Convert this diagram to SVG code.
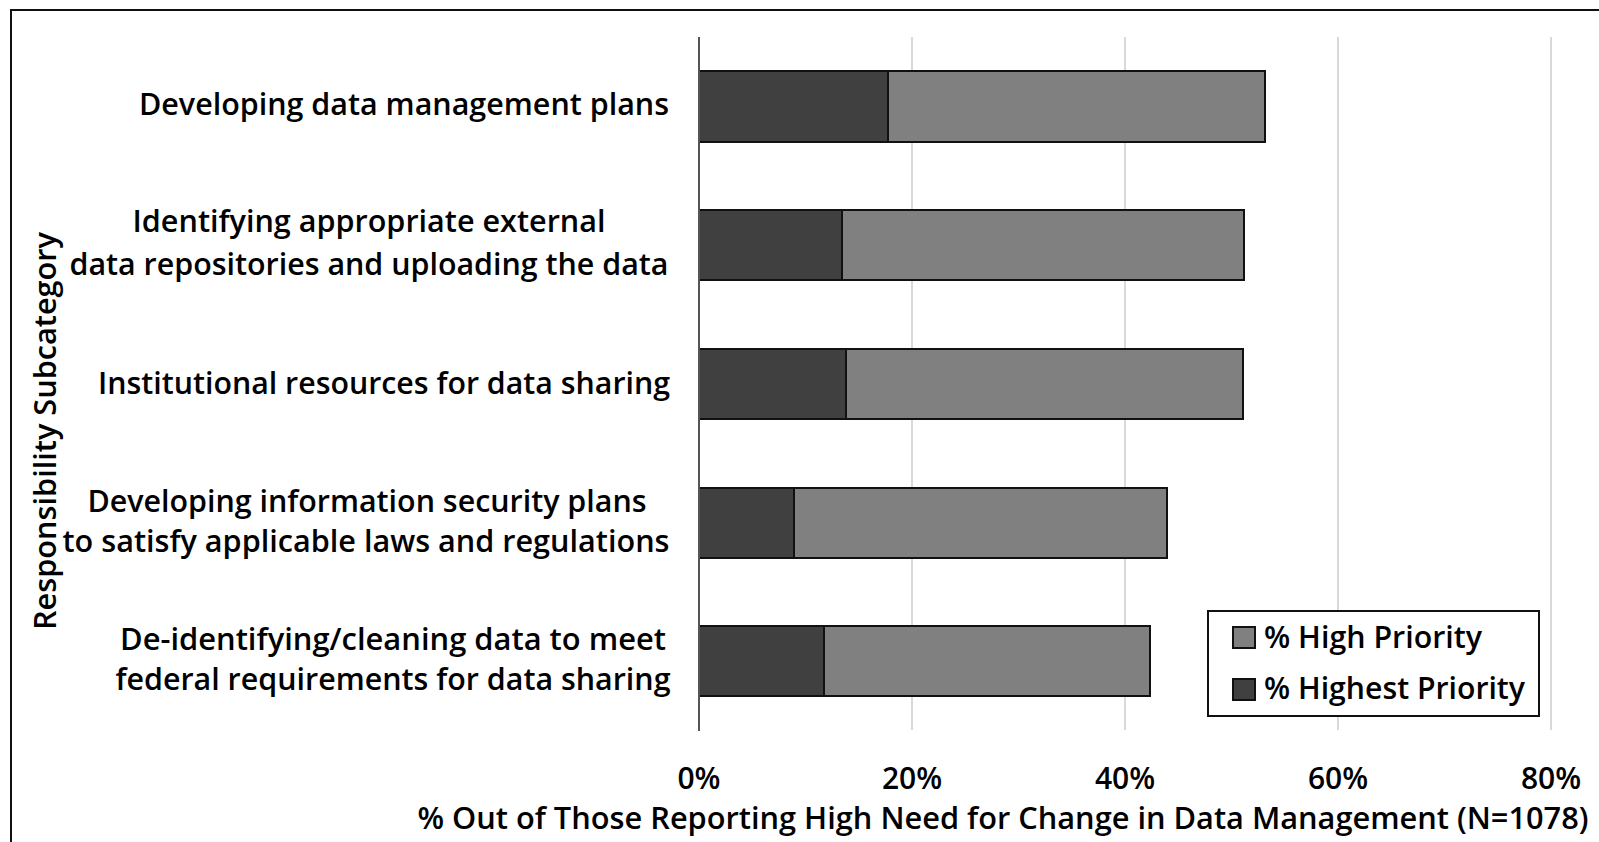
<svg xmlns="http://www.w3.org/2000/svg" width="1599" height="842" viewBox="0 0 1599 842">
<style>
text{font-family:"Open Sans","Noto Sans","Liberation Sans",sans-serif;fill:#000;font-size:30px;font-weight:600}
.lbl{text-anchor:middle}
.grid{stroke:#d9d9d9;stroke-width:2}
.dark{fill:#404040;stroke:#111;stroke-width:2}
.mid{fill:#808080;stroke:#111;stroke-width:2}
</style>
<rect x="0" y="0" width="1599" height="842" fill="#fff"/>
<rect x="11" y="10" width="1620" height="860" fill="none" stroke="#111" stroke-width="2"/>
<g id="gridlines">
<line class="grid" x1="912" y1="37" x2="912" y2="730"/>
<line class="grid" x1="1125" y1="37" x2="1125" y2="730"/>
<line class="grid" x1="1338" y1="37" x2="1338" y2="730"/>
<line class="grid" x1="1551" y1="37" x2="1551" y2="730"/>
</g>
<g id="bar1"><rect class="mid" x="888" y="71" width="377" height="71"/><rect class="dark" x="699" y="71" width="189" height="71"/></g>
<g id="bar2"><rect class="mid" x="842" y="210" width="402" height="70"/><rect class="dark" x="699" y="210" width="143" height="70"/></g>
<g id="bar3"><rect class="mid" x="846" y="349" width="397" height="70"/><rect class="dark" x="699" y="349" width="147" height="70"/></g>
<g id="bar4"><rect class="mid" x="794" y="488" width="373" height="70"/><rect class="dark" x="699" y="488" width="95" height="70"/></g>
<g id="bar5"><rect class="mid" x="824" y="626" width="326" height="70"/><rect class="dark" x="699" y="626" width="125" height="70"/></g>
<g id="axis"><line x1="699" y1="37" x2="699" y2="731" stroke="#555" stroke-width="2"/></g>
<g id="category-labels">
<text class="lbl" x="404" y="115" textLength="530" lengthAdjust="spacingAndGlyphs">Developing data management plans</text>
<text class="lbl" x="369" y="232" textLength="473" lengthAdjust="spacingAndGlyphs">Identifying appropriate external</text>
<text class="lbl" x="369" y="275" textLength="599" lengthAdjust="spacingAndGlyphs">data repositories and uploading the data</text>
<text class="lbl" x="384" y="394" textLength="572" lengthAdjust="spacingAndGlyphs">Institutional resources for data sharing</text>
<text class="lbl" x="367" y="512" textLength="559" lengthAdjust="spacingAndGlyphs">Developing information security plans</text>
<text class="lbl" x="366" y="552" textLength="607" lengthAdjust="spacingAndGlyphs">to satisfy applicable laws and regulations</text>
<text class="lbl" x="393" y="650" textLength="546" lengthAdjust="spacingAndGlyphs">De-identifying/cleaning data to meet</text>
<text class="lbl" x="393" y="690" textLength="555" lengthAdjust="spacingAndGlyphs">federal requirements for data sharing</text>
</g>
<g id="y-title"><text class="lbl" transform="translate(56 431) rotate(-90)" textLength="398" lengthAdjust="spacingAndGlyphs">Responsibility Subcategory</text></g>
<g id="ticks">
<text class="lbl" x="699" y="789">0%</text>
<text class="lbl" x="912" y="789">20%</text>
<text class="lbl" x="1125" y="789">40%</text>
<text class="lbl" x="1338" y="789">60%</text>
<text class="lbl" x="1551" y="789">80%</text>
</g>
<g id="x-title"><text class="lbl" x="1003" y="829" textLength="1171" lengthAdjust="spacingAndGlyphs">% Out of Those Reporting High Need for Change in Data Management (N=1078)</text></g>
<g id="legend">
<rect x="1208" y="611" width="331" height="105" fill="#fff" stroke="#111" stroke-width="2"/>
<rect class="mid" x="1233" y="627" width="22" height="21"/>
<rect class="dark" x="1233" y="679" width="22" height="21"/>
<text x="1264" y="648" textLength="218" lengthAdjust="spacingAndGlyphs">% High Priority</text>
<text x="1264" y="699" textLength="261" lengthAdjust="spacingAndGlyphs">% Highest Priority</text>
</g>
</svg>
